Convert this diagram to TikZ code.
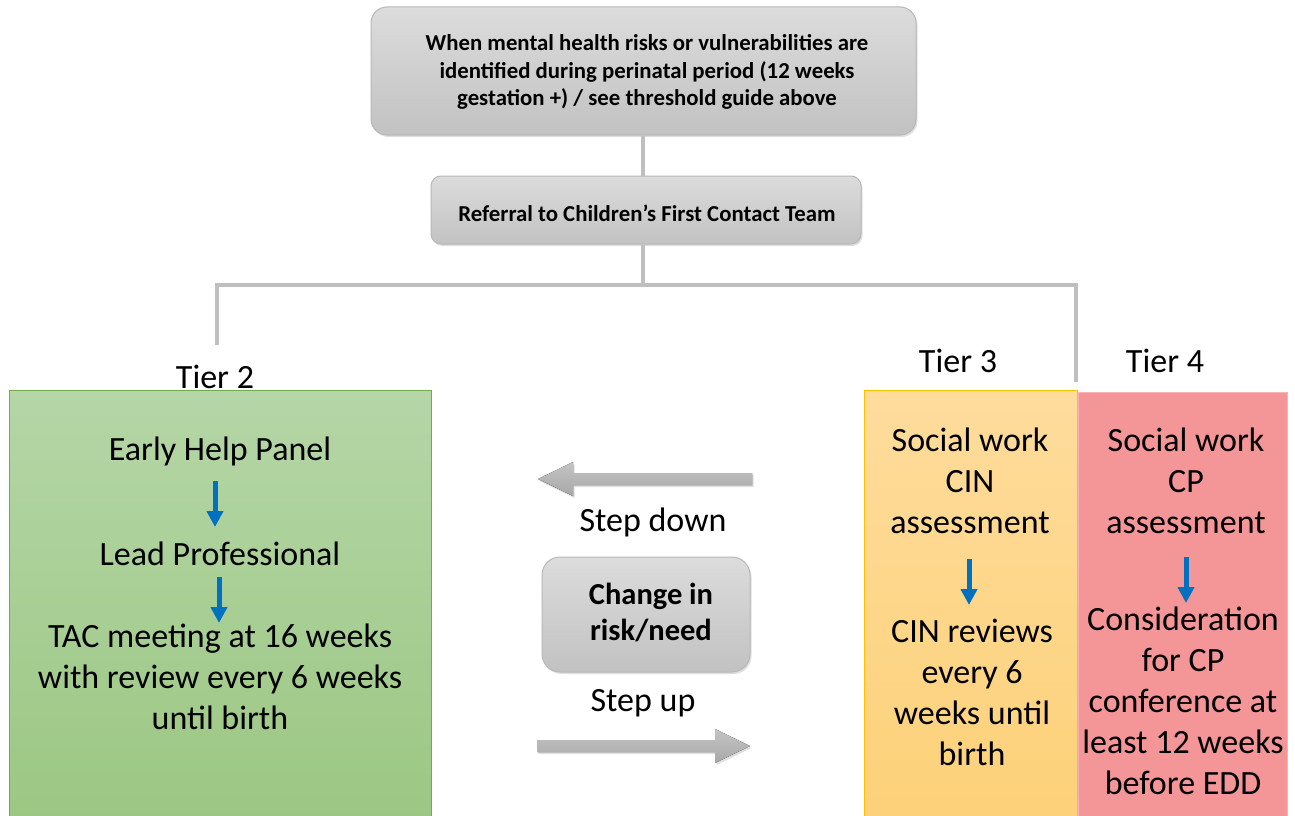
\documentclass[tikz,border=0pt]{standalone}
\usepackage{fontspec}
\setmainfont{Carlito}
\usetikzlibrary{arrows.meta,shadows}
\definecolor{lineg}{HTML}{BFBFBF}
\definecolor{boxtop}{HTML}{DCDCDC}
\definecolor{boxbot}{HTML}{C2C2C2}
\definecolor{boxline}{HTML}{B8B8B8}
\definecolor{gtop}{HTML}{B5D6A7}
\definecolor{gbot}{HTML}{9CC783}
\definecolor{gline}{HTML}{70AD47}
\definecolor{otop}{HTML}{FEDC9C}
\definecolor{obot}{HTML}{FDD179}
\definecolor{oline}{HTML}{FFC000}
\definecolor{rfill}{HTML}{F49598}
\definecolor{rline}{HTML}{F6B3B5}
\definecolor{blu}{HTML}{0070C0}
\definecolor{atop}{HTML}{C4C4C4}
\definecolor{abot}{HTML}{A8A8A8}
\tikzset{
  graybox/.style={draw=boxline, line width=1pt, top color=boxtop, bottom color=boxbot,
    drop shadow={opacity=0.25, shadow xshift=1.5pt, shadow yshift=-2pt}, inner sep=0pt},
  tierbox/.style={line width=1pt, inner sep=0pt},
  conn/.style={draw=lineg, line width=4pt},
  bluearrow/.style={draw=blu, line width=5pt, -{Triangle[width=16pt,length=16pt]}},
  big/.style={font=\fontsize{34}{41}\selectfont, align=center, inner sep=0pt},
  small/.style={font=\bfseries\fontsize{22.8}{27.5}\selectfont, align=center, inner sep=0pt},
  chg/.style={font=\bfseries\fontsize{30.5}{36}\selectfont, align=center, inner sep=0pt},
  blockarrow/.style={top color=atop, bottom color=abot, draw=none,
    drop shadow={opacity=0.25, shadow xshift=1.5pt, shadow yshift=-2pt}}
}
\begin{document}
\begin{tikzpicture}[x=1pt,y=-1pt]
\useasboundingbox (0,0) rectangle (1295,816);
\fill[white] (0,0) rectangle (1295,816);

% top boxes
\node[graybox, rounded corners=16pt, minimum width=545pt, minimum height=128pt] (top) at (643.5,71) {};
\node[small] (toptext) at (647,72) {When mental health risks or vulnerabilities are\\identified during perinatal period (12 weeks\\gestation +) / see threshold guide above};
\node[graybox, rounded corners=10pt, minimum width=430pt, minimum height=68pt] (ref) at (646,210) {};
\node[small] (reftext) at (647,213) {Referral to Children’s First Contact Team};

% connectors
\coordinate (j) at (643,285);
\coordinate (jl) at (217,285);
\coordinate (jr) at (1076,285);
\coordinate (el) at (217,345);
\coordinate (er) at (1076,382);
\draw[conn] (top.south -| j) -- (ref.north -| j);
\draw[conn] (ref.south -| j) -- (j);
\draw[conn] (el) -- (jl) -- (jr) -- (er);

% tier labels
\node[big] (t2) at (215,377) {Tier 2};
\node[big] (t3) at (958,361) {Tier 3};
\node[big] (t4) at (1165,361) {Tier 4};

% tier boxes
\node[tierbox, draw=gline, top color=gtop, bottom color=gbot, minimum width=422pt, minimum height=426pt] (g) at (220,603.5) {};
\node[tierbox, draw=oline, top color=otop, bottom color=obot, minimum width=213pt, minimum height=427pt] (o) at (970.5,603.5) {};
\node[tierbox, draw=rline, fill=rfill, minimum width=209pt, minimum height=425pt] (r) at (1182.5,604.5) {};

% tier 2 content
\node[big] (ehp) at (220,451) {Early Help Panel};
\node[big] (lp) at (220,554) {Lead Professional};
\node[big] (tac) at (220,677) {TAC meeting at 16 weeks\\with review every 6 weeks\\until birth};
\coordinate (a1s) at (215,481); \coordinate (a1e) at (215,527);
\coordinate (a2s) at (219,577); \coordinate (a2e) at (219,623);
\draw[bluearrow] (a1s) -- (a1e);
\draw[bluearrow] (a2s) -- (a2e);

% tier 3 content
\node[big] (cin) at (970,481) {Social work\\CIN\\assessment};
\node[big] (cinr) at (972,692) {CIN reviews\\every 6\\weeks until\\birth};
\coordinate (a3s) at (969,559); \coordinate (a3e) at (969,605);
\draw[bluearrow] (a3s) -- (a3e);

% tier 4 content
\node[big] (cp) at (1186,481) {Social work\\CP\\assessment};
\node[big] (cpc) at (1183,701) {Consideration\\for CP\\conference at\\least 12 weeks\\before EDD};
\coordinate (a4s) at (1186,557); \coordinate (a4e) at (1186,603);
\draw[bluearrow] (a4s) -- (a4e);

% middle
\fill[blockarrow] (752,473) -- (573,473) -- (573,462) -- (538,479) -- (573,496) -- (573,485) -- (752,485) -- cycle;
\node[big] (sd) at (653,522) {Step down};
\node[graybox, rounded corners=18pt, minimum width=208pt, minimum height=115pt] (chg) at (646,614.5) {};
\node[chg] (chgtext) at (651,612) {Change in\\risk/need};
\node[big] (su) at (643,703) {Step up};
\fill[blockarrow] (537,740) -- (715,740) -- (715,729) -- (750,746) -- (715,763) -- (715,752) -- (537,752) -- cycle;
\end{tikzpicture}
\end{document}
